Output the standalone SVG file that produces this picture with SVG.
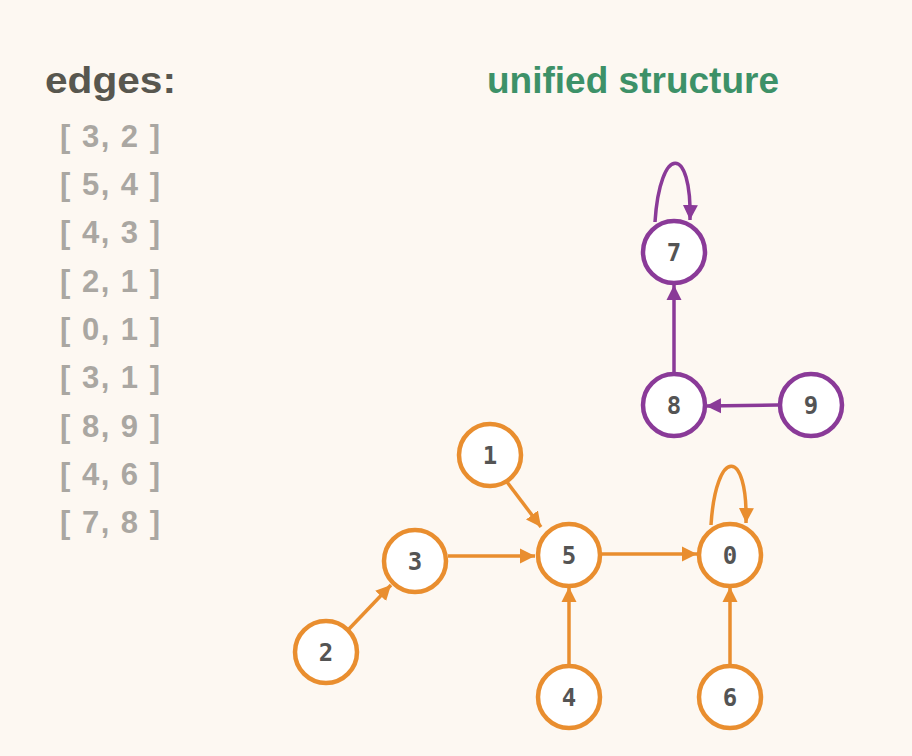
<svg xmlns="http://www.w3.org/2000/svg" width="912" height="756" viewBox="0 0 912 756">
<defs>
<style>
.bg{fill:#FDF8F2}
.title{font-family:"Liberation Sans",Arial,sans-serif;font-weight:bold;font-size:37px}
.edge-item{font-family:"Liberation Sans",Arial,sans-serif;font-weight:bold;font-size:31px;fill:#AAA7A2}
.node circle{fill:#FFFFFF;stroke-width:4.5}
.orange circle{stroke:#E98E2F}
.purple circle{stroke:#8A3A98}
.node text{font-family:"DejaVu Sans Mono","Liberation Mono",monospace;font-weight:bold;font-size:24px;fill:#545454;text-anchor:middle}
.eo{stroke:#E98E2F;stroke-width:3.5;fill:none;marker-end:url(#ao)}
.ep{stroke:#8A3A98;stroke-width:3.5;fill:none;marker-end:url(#ap)}
</style>
<marker id="ao" markerUnits="userSpaceOnUse" markerWidth="16" markerHeight="16" refX="15" refY="7.5" orient="auto" viewBox="0 0 16 15">
<path d="M0,0 L15,7.5 L0,15 z" fill="#E98E2F"/>
</marker>
<marker id="ap" markerUnits="userSpaceOnUse" markerWidth="16" markerHeight="16" refX="15" refY="7.5" orient="auto" viewBox="0 0 16 15">
<path d="M0,0 L15,7.5 L0,15 z" fill="#8A3A98"/>
</marker>
</defs>
<rect class="bg" x="0" y="0" width="912" height="756"/>
<text class="title" x="45" y="93" fill="#58574F" textLength="131" lengthAdjust="spacingAndGlyphs">edges:</text>
<text class="title" x="487" y="93" fill="#3D9168" textLength="292" lengthAdjust="spacingAndGlyphs">unified structure</text>
<g id="edge-list">
<text class="edge-item" x="60" y="147" textLength="100">[ 3, 2 ]</text>
<text class="edge-item" x="60" y="195" textLength="100">[ 5, 4 ]</text>
<text class="edge-item" x="60" y="243" textLength="100">[ 4, 3 ]</text>
<text class="edge-item" x="60" y="292" textLength="100">[ 2, 1 ]</text>
<text class="edge-item" x="60" y="340" textLength="100">[ 0, 1 ]</text>
<text class="edge-item" x="60" y="388" textLength="100">[ 3, 1 ]</text>
<text class="edge-item" x="60" y="437" textLength="100">[ 8, 9 ]</text>
<text class="edge-item" x="60" y="485" textLength="100">[ 4, 6 ]</text>
<text class="edge-item" x="60" y="533" textLength="100">[ 7, 8 ]</text>
</g>
<g id="connectors">
<path class="ep" d="M655,222 C660,144 692,144 690,220"/>
<path class="ep" d="M674,372 L674,285"/>
<path class="ep" d="M778,405 L706,406"/>
<path class="eo" d="M711,525 C716,447 748,447 746,523"/>
<path class="eo" d="M507,482 L541,527"/>
<path class="eo" d="M448,556 L535,556"/>
<path class="eo" d="M602,554 L697,554"/>
<path class="eo" d="M569,664 L569,587"/>
<path class="eo" d="M730,664 L730,587"/>
<path class="eo" d="M349,629 L391,585"/>
</g>
<g id="node-7" class="node purple"><circle cx="674" cy="252" r="31"/><text x="674" y="261">7</text></g>
<g id="node-8" class="node purple"><circle cx="674" cy="405" r="31"/><text x="674" y="414">8</text></g>
<g id="node-9" class="node purple"><circle cx="811" cy="405" r="31"/><text x="811" y="414">9</text></g>
<g id="node-1" class="node orange"><circle cx="490" cy="455" r="31"/><text x="490" y="464">1</text></g>
<g id="node-3" class="node orange"><circle cx="415" cy="561" r="31"/><text x="415" y="570">3</text></g>
<g id="node-5" class="node orange"><circle cx="569" cy="555" r="31"/><text x="569" y="564">5</text></g>
<g id="node-0" class="node orange"><circle cx="730" cy="555" r="31"/><text x="730" y="564">0</text></g>
<g id="node-2" class="node orange"><circle cx="326" cy="652" r="31"/><text x="326" y="661">2</text></g>
<g id="node-4" class="node orange"><circle cx="569" cy="697" r="31"/><text x="569" y="706">4</text></g>
<g id="node-6" class="node orange"><circle cx="730" cy="697" r="31"/><text x="730" y="706">6</text></g>
</svg>
